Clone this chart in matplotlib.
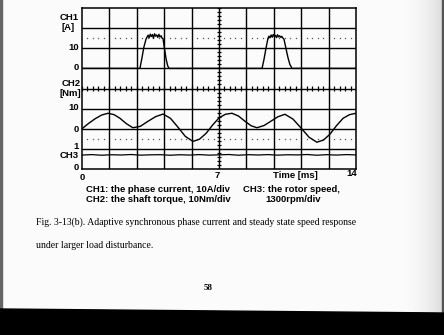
import numpy as np
import matplotlib
matplotlib.use("Agg")
import matplotlib.pyplot as plt
from matplotlib.colors import LinearSegmentedColormap

# ---------------- data ----------------
# CH1: phase current [A]
ch1_t = [0.0, 2.96, 3.06, 3.16, 3.27, 3.32, 3.38, 3.43, 3.49, 3.54, 3.6, 3.65, 3.71, 3.76,
         3.82, 3.87, 3.93, 3.98, 4.04, 4.09, 4.14, 4.22, 4.3, 4.38, 4.45,
         9.2, 9.3, 9.4, 9.5, 9.55, 9.61, 9.66, 9.72, 9.77, 9.83, 9.88, 9.94, 9.99,
         10.05, 10.1, 10.16, 10.21, 10.27, 10.32, 10.42, 10.52, 10.62, 10.73, 14.0]
ch1_i = [0.0, 0.0, 5.0, 10.5, 14.5, 15.5, 16.5, 15.2, 17.0, 15.8, 16.8, 15.0, 17.2, 16.0,
         16.6, 15.4, 16.9, 15.6, 16.2, 15.0, 14.8, 9.5, 4.5, 1.2, 0.0,
         0.0, 4.5, 10.0, 14.8, 16.0, 15.2, 16.6, 15.5, 16.8, 15.8, 16.4, 15.3, 16.7,
         15.6, 16.2, 15.4, 15.9, 15.0, 14.5, 10.0, 5.5, 2.0, 0.0, 0.0]

# CH2: shaft torque [Nm]
ch2_t = [0.0, 0.33, 0.66, 1.0, 1.33, 1.64, 1.94, 2.27, 2.6, 2.98, 3.37, 3.76, 4.14,
         4.52, 4.9, 5.28, 5.67, 6.0, 6.34, 6.67, 7.0, 7.33, 7.66, 8.0, 8.33, 8.64,
         8.94, 9.3, 9.66, 10.02, 10.37, 10.78, 11.19, 11.6, 12.0, 12.34, 12.67,
         13.0, 13.34, 13.67, 14.0]
ch2_T = [0.0, 2.6, 4.9, 6.8, 7.7, 7.0, 5.2, 2.5, 0.5, 1.2, 3.7, 6.0, 7.3,
         5.2, 0.8, -3.8, -6.3, -5.2, -2.3, 1.8, 5.4, 7.2, 7.7, 6.3, 3.7, 1.5,
         0.5, 1.6, 3.8, 6.0, 7.2, 4.8, 0.4, -4.2, -6.7, -5.6, -2.7, 1.5, 5.2, 7.0, 7.7]

# CH3: rotor speed [rpm]
ch3_t = [0.0, 0.5, 1.0, 1.5, 2.0, 2.5, 3.0, 3.5, 4.0, 4.5, 5.0, 5.5, 6.0, 6.5, 7.0,
         7.5, 8.0, 8.5, 9.0, 9.5, 10.0, 10.5, 11.0, 11.5, 12.0, 12.5, 13.0, 13.5, 14.0]
ch3_n = [900, 930, 890, 920, 905, 935, 895, 915, 925, 890, 920, 900, 930, 895, 915,
         935, 890, 925, 905, 930, 895, 920, 910, 935, 890, 925, 900, 930, 910]

ch_offsets = [5.0, 2.0, 0.0]           # divisions of each channel's zero line
ch_scales = [10.0, 10.0, 1300.0]       # units per division
x_ticklabels = ["0", "7", "14"]
legend_lines = ["CH1: the phase current, 10A/div", "CH2: the shaft torque, 10Nm/div"]
legend_right = ["CH3: the rotor speed,", "1300rpm/div"]
caption = ["Fig. 3-13(b). Adaptive synchronous phase current and steady state speed response",
           "under larger load disturbance."]
page_no = "58"

# ---------------- figure ----------------
W, H = 444, 335
fig = plt.figure(figsize=(W / 100, H / 100), dpi=100)
fig.patch.set_facecolor("#fbfbfb")

bg = fig.add_axes([0, 0, 1, 1])
bg.set_xlim(0, W)
bg.set_ylim(H, 0)
bg.axis("off")
# right side shading of the scan
grad = np.linspace(0, 1, 64)[None, :] ** 2
cmap = LinearSegmentedColormap.from_list("g", ["#fbfbfb", "#dedede"])
bg.imshow(np.repeat(grad, 10, axis=0), extent=[400, 442, 312, 0], cmap=cmap, aspect="auto")
bg.fill_between([441.5, 444], 0, 312, color="#555555")
bg.fill_between([0, 1.5], 0, 312, color="#666666")
bg.fill_between([0, 444], [309, 313], [335, 335], color="black")

# scope axes
x0, x1, ytop, ybot = 82, 356, 8, 169
ax = fig.add_axes([x0 / W, (H - ybot) / H, (x1 - x0) / W, (ybot - ytop) / H])
ax.patch.set_alpha(0)
ax.set_xlim(0, 14)
ax.set_ylim(0, 8)
xdiv = 1.4
for xv in np.arange(1, 10) * xdiv:
    ax.axvline(xv, color="black", lw=1.0)
for yv in range(1, 8):
    ax.axhline(yv, color="black", lw=1.0)
for s in ax.spines.values():
    s.set_linewidth(1.1)
ax.set_xticks([])
ax.set_yticks([])

# dotted half-division lines
dots_x = np.array([i * xdiv + f * xdiv for i in range(10) for f in (0.2, 0.4, 0.6, 0.8)])
for yv in (1.5, 6.5):
    ax.plot(dots_x, np.full_like(dots_x, yv), ls="none", marker="s", ms=0.9,
            color="#555555", mec="none")

# centre graticule ticks
tx = np.arange(0, 14.001, xdiv / 5)
ax.vlines(tx, 4 - 0.14, 4 + 0.14, color="black", lw=0.9)
ty = np.arange(0, 8.001, 0.2)
ax.hlines(ty, 7 - 0.1, 7 + 0.1, color="black", lw=0.9)

# traces
ax.plot(ch1_t, np.array(ch1_i) / ch_scales[0] + ch_offsets[0], color="black", lw=1.0)
ax.plot(ch2_t, np.array(ch2_T) / ch_scales[1] + ch_offsets[1], color="black", lw=1.0)
ax.plot(ch3_t, np.array(ch3_n) / ch_scales[2] + ch_offsets[2], color="black", lw=0.9)

# ---------------- text ----------------
bold = dict(family="Liberation Sans", weight="bold", color="black")
fs = 6.8
bg.text(69, 18, "CH1", ha="center", va="center", fontsize=fs, **bold)
bg.text(68, 27, "[A]", ha="center", va="center", fontsize=fs, **bold)
bg.text(79, 47, "10", ha="right", va="center", fontsize=fs, **bold)
bg.text(79, 68, "0", ha="right", va="center", fontsize=fs, **bold)
bg.text(71, 84, "CH2", ha="center", va="center", fontsize=fs, **bold)
bg.text(70, 93, "[Nm]", ha="center", va="center", fontsize=fs, **bold)
bg.text(79, 108, "10", ha="right", va="center", fontsize=fs, **bold)
bg.text(79, 129, "0", ha="right", va="center", fontsize=fs, **bold)
bg.text(79, 146.5, "1", ha="right", va="center", fontsize=fs, **bold)
bg.text(79, 155.5, "CH3", ha="right", va="center", fontsize=fs, **bold)
bg.text(79, 168, "0", ha="right", va="center", fontsize=fs, **bold)

bg.text(82, 177, x_ticklabels[0], ha="center", va="center", fontsize=fs, **bold)
bg.text(217, 176, x_ticklabels[1], ha="center", va="center", fontsize=fs, **bold)
bg.text(357, 174, x_ticklabels[2], ha="right", va="center", fontsize=fs, **bold)
bg.text(295, 175, "Time [ms]", ha="center", va="center", fontsize=fs, **bold)

bg.text(86, 190, legend_lines[0], ha="left", va="center", fontsize=fs, **bold)
bg.text(86, 199, legend_lines[1], ha="left", va="center", fontsize=fs, **bold)
bg.text(243, 190, legend_right[0], ha="left", va="center", fontsize=fs, **bold)
bg.text(293, 199, legend_right[1], ha="center", va="center", fontsize=fs, **bold)

serif = dict(family="Liberation Serif", color="black")
bg.text(36, 222, caption[0], ha="left", va="center", fontsize=7.0, **serif)
bg.text(36, 245, caption[1], ha="left", va="center", fontsize=7.0, **serif)
bg.text(208, 288, page_no, ha="center", va="center", fontsize=6.5, weight="bold", **serif)

fig.savefig("out.png", dpi=100, facecolor=fig.get_facecolor())
